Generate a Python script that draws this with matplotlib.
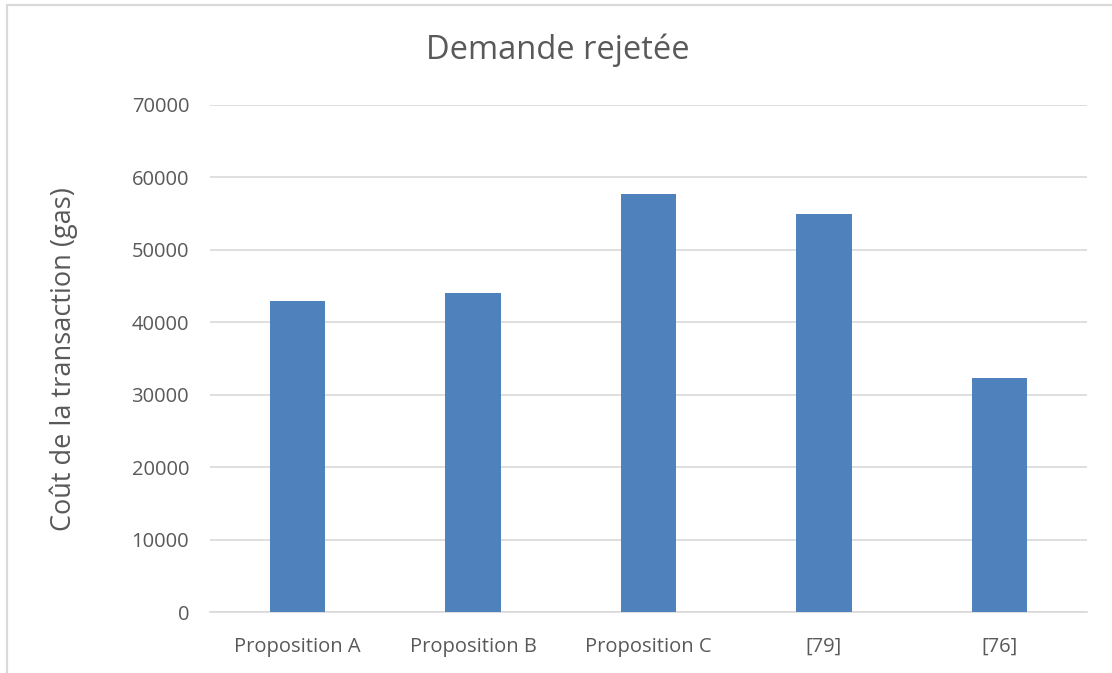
import matplotlib
matplotlib.use("Agg")
import matplotlib.pyplot as plt
from matplotlib.patches import Rectangle

categories = ["Proposition A", "Proposition B", "Proposition C", "[79]", "[76]"]
costs = [42900, 44100, 57650, 54950, 32250]
y_ticks = [0, 10000, 20000, 30000, 40000, 50000, 60000, 70000]

W, H = 1112, 673
fig = plt.figure(figsize=(W / 100, H / 100), dpi=100)
plt.rcParams["font.family"] = ["Open Sans", "DejaVu Sans"]

text_color = "#595959"
grid_color = "#D9D9D9"
bar_color = "#4F81BD"

# chart frame (only top and left edges fall inside the canvas)
fig.patches.append(Rectangle((7 / W, -0.05), 1.1, (H - 5) / H + 0.05,
                             transform=fig.transFigure, fill=False,
                             edgecolor=grid_color, linewidth=1.6))

left, right, top, bottom = 210, 1087, 105, 612
ax = fig.add_axes([left / W, 1 - bottom / H, (right - left) / W, (bottom - top) / H])

x = range(len(categories))
ax.bar(x, costs, width=0.315, color=bar_color, zorder=3)

ax.set_xlim(-0.5, len(categories) - 0.5)
ax.set_ylim(0, 70000)
ax.set_yticks(y_ticks)
ax.set_yticklabels([str(v) for v in y_ticks])
ax.set_xticks(list(x))
ax.set_xticklabels(categories)

ax.yaxis.grid(True, color=grid_color, linewidth=1.2, zorder=0)
ax.set_axisbelow(True)
for side in ["top", "right", "left"]:
    ax.spines[side].set_visible(False)
ax.spines["bottom"].set_color(grid_color)
ax.spines["bottom"].set_linewidth(1.2)

ax.tick_params(axis="both", length=0, labelsize=14.5, labelcolor=text_color)
ax.tick_params(axis="y", pad=15)
ax.tick_params(axis="x", pad=18)

fig.text(64 / W, 1 - 359 / H, "Coût de la transaction (gas)", rotation=90,
         ha="center", va="center", fontsize=19.5, color=text_color)
fig.text(558 / W, 1 - 50 / H, "Demande rejetée", ha="center", va="center",
         fontsize=23.5, color=text_color)

fig.savefig("out.png", dpi=100, facecolor="white")
